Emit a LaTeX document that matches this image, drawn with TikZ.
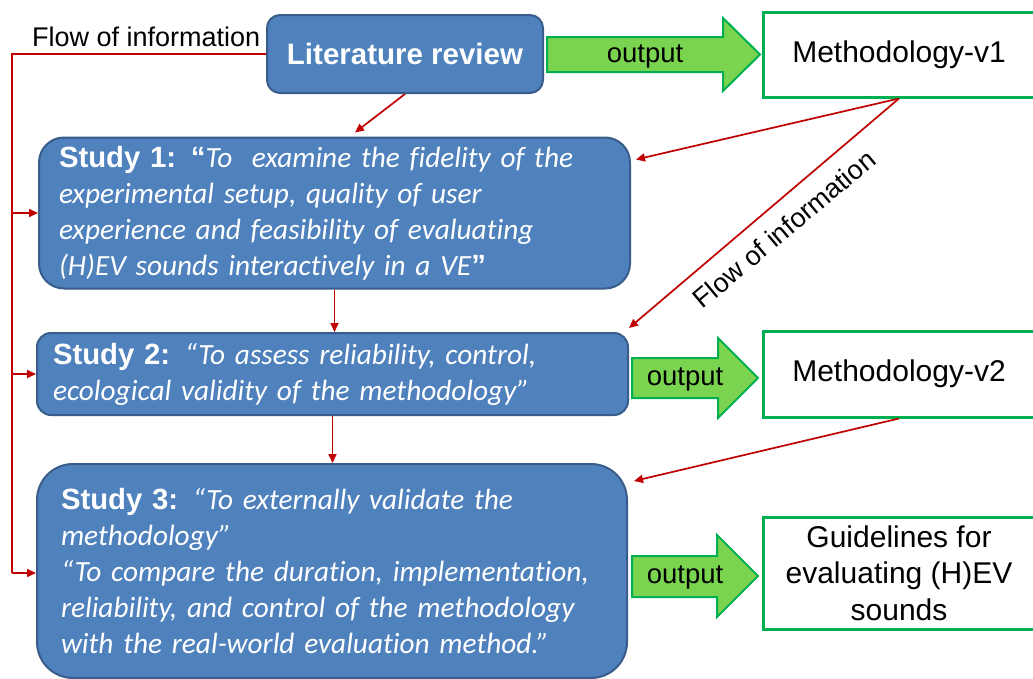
\documentclass[tikz,border=0pt]{standalone}
\usepackage{fontspec}
\setmainfont{Liberation Sans}
\newfontfamily\calib[Ligatures=NoCommon]{Carlito}
\usetikzlibrary{arrows.meta,calc}
\definecolor{blueF}{HTML}{4F81BD}
\definecolor{blueD}{HTML}{385D8A}
\definecolor{redL}{HTML}{C00000}
\definecolor{greenF}{HTML}{7AD44F}
\definecolor{greenD}{HTML}{00B050}
\begin{document}
\begin{tikzpicture}[x=1pt,y=-1pt,
  studybox/.style={draw=blueD, line width=2pt, fill=blueF, text=white, align=left, inner ysep=0pt, font=\fontsize{29.3}{36}\selectfont},
  outbox/.style={draw=greenD, line width=3pt, fill=white, minimum width=272pt, align=center, font=\fontsize{30}{36.5}\selectfont},
  flow/.style={draw=redL, line width=1.7pt},
  flowarrow/.style={flow, -{Triangle[length=9pt,width=8pt]}},
  greenarrow/.style={fill=greenF, draw=greenD, line width=2pt, line join=miter},
  outlabel/.style={font=\fontsize{27.5}{30}\selectfont, inner sep=0pt},
  flowlabel/.style={font=\fontsize{27}{30}\selectfont, inner sep=0pt},
]
\useasboundingbox (0,0) rectangle (1033,678);
\fill[white] (0,0) rectangle (1033,678);

% blue boxes
\node[studybox, rounded corners=13pt, minimum width=276pt, minimum height=78pt, align=center,
      font=\bfseries\fontsize{29.5}{34}\selectfont] (lit) at (405,54) {Literature review};

\node[studybox, rounded corners=25pt, text width=551pt, inner xsep=20pt, minimum height=151pt] (s1) at (334.5,213)
  {{\bfseries Study 1: “}\calib\itshape To\ \ examine the fidelity of the\\
   experimental setup, quality of user\\
   experience and feasibility of evaluating\\
   (H)EV sounds interactively in a VE{\normalfont\bfseries ”}};

\node[studybox, rounded corners=14pt, text width=559pt, inner xsep=16pt, minimum height=82pt] (s2) at (332.5,374)
  {{\bfseries Study 2:} \calib\itshape “To assess reliability, control,\\
   ecological validity of the methodology”};

\node[studybox, rounded corners=36pt, text width=542pt, inner xsep=24pt, minimum height=214pt] (s3) at (332,571)
  {{\bfseries Study 3:} \calib\itshape “To externally validate the\\
   methodology”\\
   “To compare the duration, implementation,\\
   reliability, and control of the methodology\\
   with the real-world evaluation method.”};

% output boxes
\node[outbox, minimum height=85pt] (m1) at (899,54.5) {Methodology-v1};
\node[outbox, minimum height=86pt] (m2) at (899,374) {Methodology-v2};
\node[outbox, minimum height=112pt] (g) at (899,573) {Guidelines for\\evaluating (H)EV\\sounds};

% green output arrows
\filldraw[greenarrow] (547,37) -- (723,37) -- (723,18) -- (760,54.5) -- (723,91) -- (723,72) -- (547,72) -- cycle;
\node[outlabel] (o1) at (645,56) {output};
\filldraw[greenarrow] (632,358) -- (718,358) -- (718,338) -- (758,378) -- (718,418) -- (718,398) -- (632,398) -- cycle;
\node[outlabel] (o2) at (685,379) {output};
\filldraw[greenarrow] (632,556) -- (717,556) -- (717,535) -- (758,576) -- (717,617) -- (717,597) -- (632,597) -- cycle;
\node[outlabel] (o3) at (685,577) {output};

% flow of information (left)
\node[flowlabel, anchor=base west] (fl1) at (32,46) {Flow of information};
\coordinate (c0) at (12,54);
\coordinate (c1) at (12,213);
\coordinate (c2) at (12,374);
\coordinate (c3) at (12,573);
\draw[flow] (lit.west) -- (c0) -- (c3);
\draw[flowarrow] (c1) -- (c1 -| s1.west);
\draw[flowarrow] (c2) -- (c2 -| s2.west);
\draw[flowarrow] (c3) -- (c3 -| s3.west);

% vertical chain
\draw[flowarrow] (lit.south) -- ($(s1.north)+(20.5,-4)$);
\draw[flowarrow] (s1.south) -- (s1.south |- s2.north);
\draw[flowarrow] (s2.south) -- (s2.south |- s3.north);

% feedback from methodology
\draw[flowarrow] (m1.south) -- ($(s1.north east)+(5,23)$);
\draw[flowarrow] (m1.south) -- ($(s2.north east)+(0,-4)$);
\draw[flowarrow] (m2.south) -- ($(s3.north east)+(6,18)$);
\node[flowlabel, rotate=40] (fl2) at (784,229) {Flow of information};
\end{tikzpicture}
\end{document}
